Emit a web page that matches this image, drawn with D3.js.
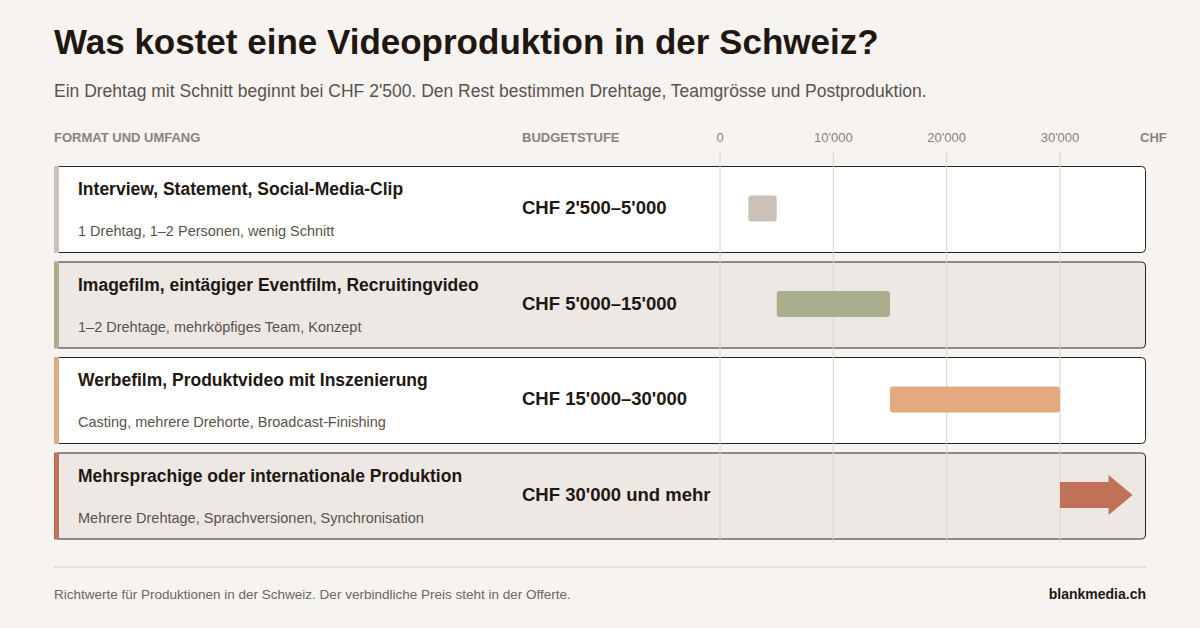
<!DOCTYPE html>
<html><head><meta charset="utf-8">
<script src="https://cdn.jsdelivr.net/npm/d3@7"></script>
<style>body{margin:0;background:#f6f3f0;font-family:"Liberation Sans",Arial,sans-serif}</style>
</head><body><div id="chart"></div>
<script>
// Data
const formats = ["Interview, Statement, Social-Media-Clip", "Imagefilm, eintägiger Eventfilm, Recruitingvideo", "Werbefilm, Produktvideo mit Inszenierung", "Mehrsprachige oder internationale Produktion"];
const details = ["1 Drehtag, 1–2 Personen, wenig Schnitt", "1–2 Drehtage, mehrköpfiges Team, Konzept", "Casting, mehrere Drehorte, Broadcast-Finishing", "Mehrere Drehtage, Sprachversionen, Synchronisation"];
const budgetLabels = ["CHF 2'500–5'000", "CHF 5'000–15'000", "CHF 15'000–30'000", "CHF 30'000 und mehr"];
const budgetMin = [2500, 5000, 15000, 30000];
const budgetMax = [5000, 15000, 30000, null]; // null = open end
const colors = ["#cac1b9", "#a9ae8d", "#e3a97f", "#c07259"];
const ticks = [0, 10000, 20000, 30000];

const W = 1200, H = 628;
const svg = d3.select("#chart").append("svg").attr("width", W).attr("height", H);
svg.append("rect").attr("width", W).attr("height", H).attr("fill", "#f6f3f0");

const x = d3.scaleLinear().domain([0, 30000]).range([720, 1060]);
const rowTop = 166, rowH = 86, rowGap = 9.5;
const y = i => rowTop + i * (rowH + rowGap);
const fmt = v => d3.format(",")(v).replace(/,/g, "'");

// Title
svg.append("text").attr("x", 54).attr("y", 54).attr("font-size", 35).attr("font-weight", "bold")
    .attr("fill", "#1f1710").text("Was kostet eine Videoproduktion in der Schweiz?");
svg.append("text").attr("x", 54).attr("y", 97).attr("font-size", 17.5).attr("fill", "#5a524c")
    .text("Ein Drehtag mit Schnitt beginnt bei CHF 2'500. Den Rest bestimmen Drehtage, Teamgrösse und Postproduktion.");

// Headers
const hdr = (tx, xx, anchor) => svg.append("text").attr("x", xx).attr("y", 142).attr("font-size", 13)
    .attr("font-weight", "bold").attr("fill", "#8a827c").attr("text-anchor", anchor || "start").text(tx);
hdr("FORMAT UND UMFANG", 54);
hdr("BUDGETSTUFE", 522);
hdr("CHF", 1140);

// Rows background
const rows = svg.selectAll(".row").data(formats).enter().append("g").attr("class", "row");
rows.append("rect").attr("x", 54.5).attr("y", (d, i) => y(i) + 0.5).attr("width", 1091).attr("height", rowH)
    .attr("rx", 4).attr("fill", (d, i) => i % 2 ? "#ede8e4" : "#ffffff").attr("stroke", "#2a2420").attr("stroke-width", 1);
rows.append("rect").attr("x", 54).attr("y", (d, i) => y(i)).attr("width", 5).attr("height", rowH + 1)
    .attr("fill", (d, i) => colors[i]);

// Grid + axis
svg.selectAll(".grid").data(ticks).enter().append("line")
    .attr("x1", d => x(d)).attr("x2", d => x(d)).attr("y1", 152).attr("y2", 543)
    .attr("stroke", "#d8d2cc").attr("stroke-width", 1);
svg.selectAll(".tick").data(ticks).enter().append("text")
    .attr("x", d => x(d)).attr("y", 142).attr("text-anchor", "middle").attr("font-size", 13)
    .attr("fill", "#8a827c").text(d => fmt(d));

// Row text
rows.append("text").attr("x", 78).attr("y", (d, i) => y(i) + 29).attr("font-size", 17.5).attr("font-weight", "bold")
    .attr("fill", "#1f1710").text(d => d);
rows.append("text").attr("x", 78).attr("y", (d, i) => y(i) + 70).attr("font-size", 14.5)
    .attr("fill", "#5a524c").text((d, i) => details[i]);
rows.append("text").attr("x", 522).attr("y", (d, i) => y(i) + 48).attr("font-size", 18.5).attr("font-weight", "bold")
    .attr("fill", "#1f1710").text((d, i) => budgetLabels[i]);

// Bars
const barH = 26;
budgetMin.forEach((lo, i) => {
    const cy = y(i) + rowH / 2 - 0.5;
    if (budgetMax[i] != null) {
        svg.append("rect").attr("x", x(lo)).attr("y", cy - barH / 2).attr("width", x(budgetMax[i]) - x(lo))
            .attr("height", barH).attr("rx", 3).attr("fill", colors[i]);
    } else {
        const x0 = x(lo), x1 = x(36400), head = 24, sh = 13;
        const pts = [[x0, cy - sh], [x1 - head, cy - sh], [x1 - head, cy - 20], [x1, cy], [x1 - head, cy + 20], [x1 - head, cy + sh], [x0, cy + sh]];
        svg.append("path").attr("d", d3.line()(pts) + "Z").attr("fill", colors[i]);
    }
});

// Footer
svg.append("line").attr("x1", 54).attr("x2", 1146).attr("y1", 567).attr("y2", 567).attr("stroke", "#d3ccc6");
svg.append("text").attr("x", 54).attr("y", 599).attr("font-size", 13.5).attr("fill", "#6e6660")
    .text("Richtwerte für Produktionen in der Schweiz. Der verbindliche Preis steht in der Offerte.");
svg.append("text").attr("x", 1146).attr("y", 599).attr("font-size", 14).attr("font-weight", "bold")
    .attr("text-anchor", "end").attr("fill", "#1f1710").text("blankmedia.ch");
</script></body></html>
